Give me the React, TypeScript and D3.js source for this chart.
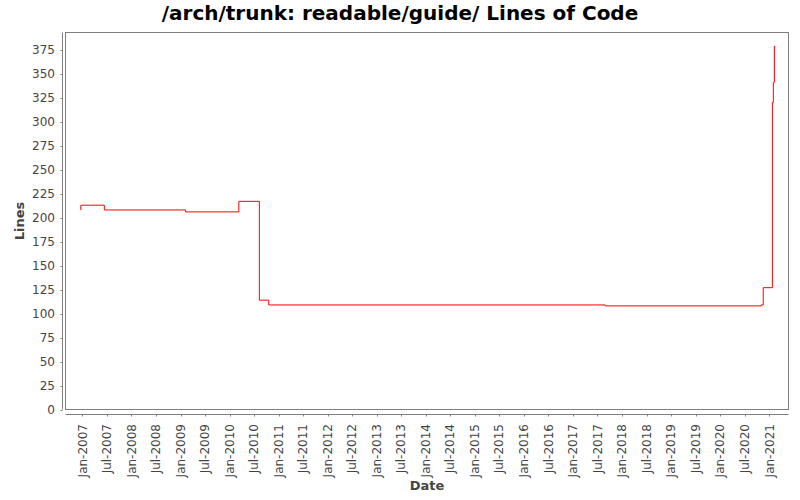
import React from "react";
import * as d3 from "d3";

const dates: string[] = [
  "2006-12-18", "2006-12-20", "2007-06-13", "2009-02-06", "2010-03-10",
  "2010-08-10", "2010-10-19", "2017-08-28", "2020-11-01", "2020-11-16",
  "2021-01-23", "2021-01-30", "2021-02-07",
];
const lines: number[] = [208, 213, 208, 206, 217, 114, 109, 108, 109, 127, 320, 341, 379];
const yTicks: number[] = [0, 25, 50, 75, 100, 125, 150, 175, 200, 225, 250, 275, 300, 325, 350, 375];
const title = "/arch/trunk: readable/guide/ Lines of Code";
const xLabel = "Date";
const yLabel = "Lines";

const W = 800, H = 500;
const L = 65.5, T = 32.5, R = 788.5, B = 409.5;
const FONT = "'DejaVu Sans', sans-serif";

export default function App() {
  const parse = d3.timeParse("%Y-%m-%d");
  const data = dates.map((d, i) => ({ date: parse(d) as Date, v: lines[i] }));
  const x = d3.scaleTime()
    .domain([new Date(2006, 7, 28), new Date(2021, 4, 23)])
    .range([L, R]);
  const y = d3.scaleLinear().domain([0, 393]).range([B, T]);
  const xTicks = d3.timeMonth.every(6)!.range(new Date(2007, 0, 1), new Date(2021, 1, 1));
  const fmt = d3.timeFormat("%b-%Y");
  const line = d3.line<{ date: Date; v: number }>()
    .x(d => x(d.date))
    .y(d => y(d.v))
    .curve(d3.curveStepAfter);
  const axisY = 414.5;
  const axisX = 62.5;
  return (
    <svg width={W} height={H} style={{ position: "absolute", left: 0, top: 0, background: "#fff" }}>
      <rect x={0} y={0} width={W} height={H} fill="#fff" />
      <text x={400} y={20} textAnchor="middle" fontFamily={FONT} fontWeight="bold" fontSize={20} fill="#000">{title}</text>
      <rect x={L} y={T} width={R - L} height={B - T} fill="#fff" stroke="#808080" strokeWidth={1} />
      <path d={line(data) || ""} fill="none" stroke="#ff0000" strokeWidth={1} />
      {/* y axis */}
      <line x1={axisX} x2={axisX} y1={T} y2={B} stroke="#808080" />
      {yTicks.map(t => (
        <g key={t}>
          <line x1={axisX - 2} x2={axisX} y1={Math.round(y(t)) + 0.5} y2={Math.round(y(t)) + 0.5} stroke="#808080" />
          <text x={55} y={y(t)} dy="0.35em" textAnchor="end" fontFamily={FONT} fontSize={12} fill="#444">{t}</text>
        </g>
      ))}
      {/* x axis */}
      <line x1={L} x2={R} y1={axisY} y2={axisY} stroke="#808080" />
      {xTicks.map(t => {
        const px = Math.round(x(t)) + 0.5;
        return (
          <g key={t.getTime()}>
            <line x1={px} x2={px} y1={axisY} y2={axisY + 2} stroke="#808080" />
            <text transform={`translate(${x(t)},${424}) rotate(-90)`} dy="0.35em" textAnchor="end" fontFamily={FONT} fontSize={12} fill="#444">{fmt(t)}</text>
          </g>
        );
      })}
      <text x={(L + R) / 2} y={490} textAnchor="middle" fontFamily={FONT} fontWeight="bold" fontSize={13} fill="#444">{xLabel}</text>
      <text transform={`translate(24,${(T + B) / 2}) rotate(-90)`} textAnchor="middle" fontFamily={FONT} fontWeight="bold" fontSize={13} fill="#444">{yLabel}</text>
    </svg>
  );
}
